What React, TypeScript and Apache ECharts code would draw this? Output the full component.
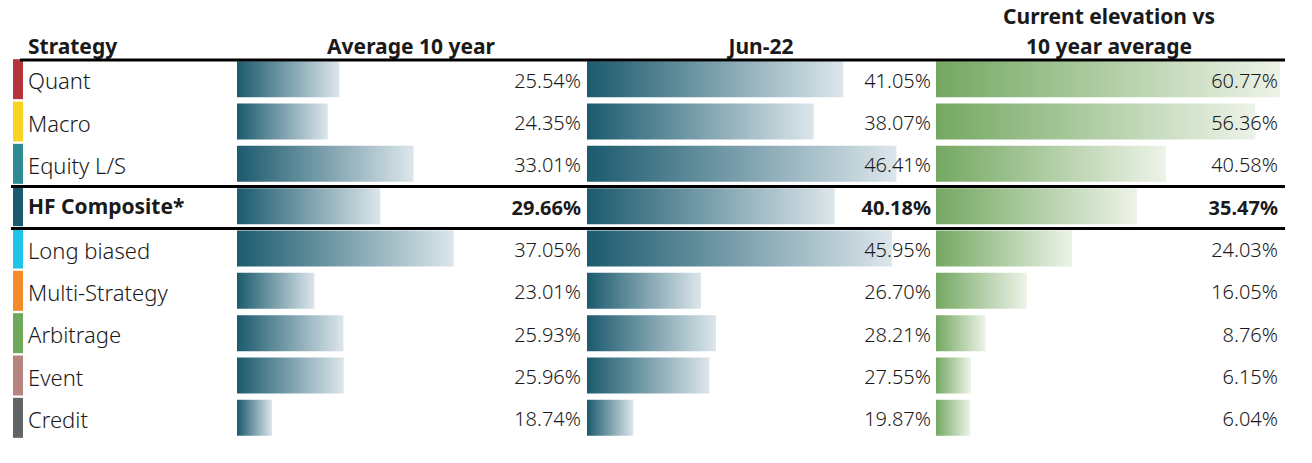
import React, { useEffect, useRef } from "react";
import * as echarts from "echarts";

const categories = ["Quant", "Macro", "Equity L/S", "HF Composite*", "Long biased", "Multi-Strategy", "Arbitrage", "Event", "Credit"];
const avg10y = [25.54, 24.35, 33.01, 29.66, 37.05, 23.01, 25.93, 25.96, 18.74];
const jun22 = [41.05, 38.07, 46.41, 40.18, 45.95, 26.7, 28.21, 27.55, 19.87];
const elevation = [60.77, 56.36, 40.58, 35.47, 24.03, 16.05, 8.76, 6.15, 6.04];
const stripColors = ["#B5333A", "#F9D423", "#2E8A93", "#1B5A6E", "#1EC4E8", "#F28C28", "#6FA85B", "#B68580", "#636466"];
const headerStrategy = "Strategy";
const columnTitles = ["Average 10 year", "Jun-22", "Current elevation vs\n10 year average"];
const boldIndex = 3;

const FONT = "'Noto Sans', 'Open Sans', sans-serif";
const TEXT = "#1a1a1a";

export default function App() {
  const ref = useRef<HTMLDivElement>(null);
  useEffect(() => {
    if (!ref.current) return;
    const chart = echarts.init(ref.current, null, { renderer: "svg" });
    const top = 58;
    const height = 381;
    const cols = [
      { left: 237, width: 348, min: 15.2, max: 50.3, data: avg10y, c0: "#1B5A6E", c1: "#DCE6EB" },
      { left: 587, width: 348, min: 15.2, max: 50.3, data: jun22, c0: "#1B5A6E", c1: "#DCE6EB" },
      { left: 936, width: 346, min: 0, max: 61.1, data: elevation, c0: "#74A862", c1: "#EDF3E8" },
    ];
    const grids: any[] = cols.map((c) => ({ left: c.left, width: c.width, top, height }));
    grids.push({ left: 13, width: 10, top, height });
    const xAxis: any[] = cols.map((c, i) => ({ type: "value", gridIndex: i, min: c.min, max: c.max, show: false }));
    xAxis.push({ type: "value", gridIndex: 3, min: 0, max: 1, show: false });
    const yAxis: any[] = cols.map((c, i) => ({
      type: "category",
      gridIndex: i,
      data: categories,
      inverse: true,
      axisLine: { show: false },
      axisTick: { show: false },
      axisLabel: i === 0
        ? {
            show: true,
            align: "left",
            margin: 209,
            formatter: (v: string) => (v === categories[boldIndex] ? `{b|${v}}` : `{n|${v}}`),
            rich: {
              n: { fontFamily: FONT, fontSize: 22, color: TEXT, fontWeight: 300, padding: [2, 0, 0, 0] },
              b: { fontFamily: FONT, fontSize: 21, color: TEXT, fontWeight: "bold" },
            },
          }
        : { show: false },
    }));
    yAxis.push({ type: "category", gridIndex: 3, data: categories, inverse: true, show: false });

    const series: any[] = [];
    cols.forEach((c, i) => {
      series.push({
        type: "bar",
        xAxisIndex: i,
        yAxisIndex: i,
        data: c.data,
        barWidth: 36,
        silent: true,
        itemStyle: {
          color: new echarts.graphic.LinearGradient(0, 0, 1, 0, [
            { offset: 0, color: c.c0 },
            { offset: 1, color: c.c1 },
          ]),
        },
      });
      series.push({
        type: "bar",
        xAxisIndex: i,
        yAxisIndex: i,
        data: c.data.map(() => c.max),
        barWidth: 36,
        barGap: "-100%",
        silent: true,
        itemStyle: { color: "rgba(0,0,0,0)" },
        z: 5,
        label: {
          show: true,
          position: "insideRight",
          distance: 4,
          formatter: (p: any) => {
            const s = c.data[p.dataIndex].toFixed(2) + "%";
            return p.dataIndex === boldIndex ? `{b|${s}}` : `{n|${s}}`;
          },
          rich: {
            n: { fontFamily: FONT, fontSize: 20, color: TEXT, fontWeight: 300, padding: [2, 0, 0, 0] },
            b: { fontFamily: FONT, fontSize: 20, color: TEXT, fontWeight: "bold", padding: [2, 0, 0, 0] },
          },
        },
      });
    });
    series.push({
      type: "bar",
      xAxisIndex: 3,
      yAxisIndex: 3,
      data: categories.map((_, i) => ({ value: 1, itemStyle: { color: stripColors[i] } })),
      barWidth: 40,
      silent: true,
    });

    const headerFont = `bold 21px ${FONT}`;
    const graphic: any[] = [
      { type: "text", x: 28, y: 46, z: 100, style: { text: headerStrategy, font: headerFont, fill: TEXT, textAlign: "left", textVerticalAlign: "middle" } },
      { type: "text", x: 411, y: 46, z: 100, style: { text: columnTitles[0], font: headerFont, fill: TEXT, textAlign: "center", textVerticalAlign: "middle" } },
      { type: "text", x: 761, y: 46, z: 100, style: { text: columnTitles[1], font: headerFont, fill: TEXT, textAlign: "center", textVerticalAlign: "middle" } },
      { type: "text", x: 1109, y: 16, z: 100, style: { text: columnTitles[2].split("\n")[0], font: headerFont, fill: TEXT, textAlign: "center", textVerticalAlign: "middle" } },
      { type: "text", x: 1109, y: 46, z: 100, style: { text: columnTitles[2].split("\n")[1], font: headerFont, fill: TEXT, textAlign: "center", textVerticalAlign: "middle" } },
      { type: "line", z: 100, shape: { x1: 20, y1: 60, x2: 1285, y2: 60 }, style: { stroke: "#000", lineWidth: 3 } },
      { type: "line", z: 100, shape: { x1: 11, y1: 186.5, x2: 1285, y2: 186.5 }, style: { stroke: "#000", lineWidth: 3 } },
      { type: "line", z: 100, shape: { x1: 11, y1: 228.5, x2: 1285, y2: 228.5 }, style: { stroke: "#000", lineWidth: 3 } },
    ];

    chart.setOption({
      animation: false,
      backgroundColor: "#ffffff",
      grid: grids,
      xAxis,
      yAxis,
      series,
      graphic,
    });
    return () => chart.dispose();
  }, []);
  return <div ref={ref} style={{ position: "fixed", left: 0, top: 0, width: 1312, height: 463 }} />;
}
